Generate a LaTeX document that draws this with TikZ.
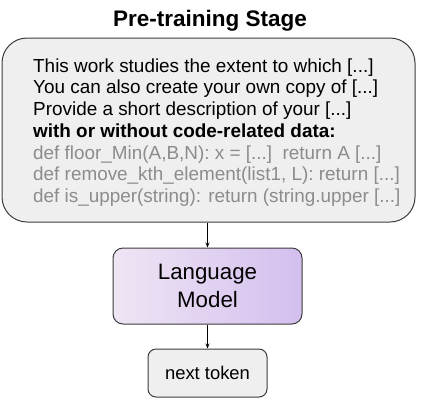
\documentclass[tikz,border=0pt]{standalone}
\usepackage{fontspec}
\setmainfont{Liberation Sans}
\usetikzlibrary{arrows.meta}
\definecolor{boxgray}{HTML}{EFEFEF}
\definecolor{linegray}{HTML}{3C3C3C}
\definecolor{codegray}{HTML}{8C8C8C}
\definecolor{lmleft}{HTML}{EFE5F4}
\definecolor{lmright}{HTML}{D3BFEE}

\begin{document}
\begin{tikzpicture}[x=1pt,y=-1pt,line join=round,
    box/.style={draw=linegray,line width=1pt,inner sep=0pt},
    link/.style={-{Stealth[length=5pt,width=4pt]},line width=0.9pt}]
    \useasboundingbox (0,0) rectangle (423,416);
    \node[font=\fontsize{22.5}{26}\selectfont\bfseries] (title) at (210,21) {Pre-training Stage};
    \node[box,fill=boxgray,rounded corners=25pt,minimum width=413pt,minimum height=184pt] (corpus) at (208.5,130) {};
    \node[anchor=west,align=left,inner sep=0pt,font=\fontsize{18.9}{21.7}\selectfont] (corpustext) at (33,132.5) {%
        This work studies the extent to which [...]\\
        You can also create your own copy of [...]\\
        Provide a short description of your [...]\\
        \textbf{with or without code-related data:}\\
        \textcolor{codegray}{def floor\_Min(A,B,N): x = [...]\ \ return A [...]}\\
        \textcolor{codegray}{def remove\_kth\_element(list1, L): return [...]}\\
        \textcolor{codegray}{def is\_upper(string): return (string.upper [...]}};
    \node[box,left color=lmleft,right color=lmright,rounded corners=10pt,minimum width=189pt,minimum height=76pt,align=center,font=\fontsize{22.3}{28.5}\selectfont] (lm) at (207.5,286) {Language\\Model};
    \node[box,fill=boxgray,rounded corners=8pt,minimum width=119pt,minimum height=48pt,font=\fontsize{18.4}{22}\selectfont] (token) at (207.5,373) {next token};
    \draw[link] (corpus.south -| lm.north) -- (lm.north);
    \draw[link] (lm.south) -- (token.north);
\end{tikzpicture}
\end{document}
